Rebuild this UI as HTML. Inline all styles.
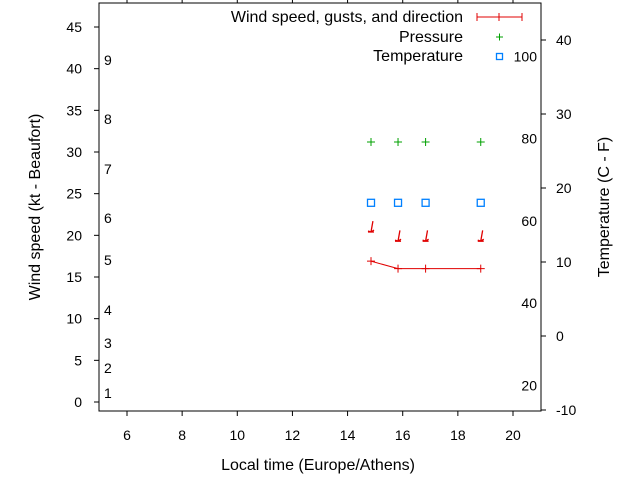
<!DOCTYPE html>
<html><head><meta charset="utf-8"><style>
body{margin:0;background:#fff;}
svg text{font-family:"Liberation Sans",sans-serif;font-size:14px;fill:#000;}
svg text.big{font-size:16px;}
</style></head><body>
<svg width="640" height="480" xmlns="http://www.w3.org/2000/svg">
<g id="root"></g>
</svg>
<script>
const times=[14.85,15.83,16.83,18.83];
const windSpeed=[16.9,16,16,16];
const arrowLevel=[20.4,19.3,19.3,19.3];
const windDir=[10,10,10,10];
const pressure=[31.2,31.2,31.2,31.2];
const temperature=[18,18,18,18];
const xTicks=[6,8,10,12,14,16,18,20];
const yTicks=[0,5,10,15,20,25,30,35,40,45];
const y2Ticks=[-10,0,10,20,30,40];
const fLabels=[20,40,60,80,100];
const bft=[1,2,3,4,5,6,7,8,9];
const bftY=[393,368,343,310,260,218,169,119,60];

const L=99,R=541,T=3,B=411;
const xs=t=>127+(t-6)*(513-127)/14;
const ys=v=>402-v*(402-27)/45;
const y2s=c=>410-(c+10)*(410-40)/50;
const NS="http://www.w3.org/2000/svg";
const root=document.getElementById('root');
function el(tag,attrs,text){const e=document.createElementNS(NS,tag);for(const k in attrs)e.setAttribute(k,attrs[k]);if(text!==undefined)e.textContent=text;root.appendChild(e);return e;}

let e=el('rect',{x:L,y:T,width:R-L,height:B-T,fill:'none',stroke:'#000','stroke-width':1});


xTicks.forEach(t=>{
  const x=xs(t);
  el('line',{x1:x,y1:B,x2:x,y2:B+5,stroke:'#000'});
  el('line',{x1:x,y1:T,x2:x,y2:T-5,stroke:'#000'});
  e=el('text',{x:x,y:B+29,'text-anchor':'middle'},t);
  
  
});
yTicks.forEach(v=>{
  const y=ys(v);
  el('line',{x1:L-5,y1:y,x2:L,y2:y,stroke:'#000'});
  e=el('text',{x:82,y:y+5,'text-anchor':'end'},v);
  
  
});
y2Ticks.forEach(c=>{
  const y=y2s(c);
  el('line',{x1:R,y1:y,x2:R+5,y2:y,stroke:'#000'});
  e=el('text',{x:556,y:y+5},c);
  
  
});
fLabels.forEach(f=>{
  const c=(f-32)*5/9;
  e=el('text',{x:537,y:y2s(c)+5,'text-anchor':'end'},f);
  
  
});
bft.forEach((b,i)=>{
  e=el('text',{x:104,y:bftY[i]+5},b);
  
  
});
e=el('text',{x:318,y:470,'text-anchor':'middle','class':'big'},'Local time (Europe/Athens)');


e=el('text',{x:40,y:207,'text-anchor':'middle','class':'big',transform:'rotate(-90 40 207)'},'Wind speed (kt - Beaufort)');


e=el('text',{x:609,y:207,'text-anchor':'middle','class':'big',transform:'rotate(-90 609 207)'},'Temperature (C - F)');



e=el('polyline',{points:times.map((t,i)=>xs(t)+','+ys(windSpeed[i])).join(' '),fill:'none',stroke:'#e00000'});


times.forEach((t,i)=>{
  const x=xs(t),y=ys(windSpeed[i]);
  e=el('path',{d:`M${x-4},${y}H${x+4}M${x},${y-4}V${y+4}`,stroke:'#e00000'});
  
  
  const ay=ys(arrowLevel[i]),a=windDir[i]*Math.PI/180,len=11;
  const tx=x+len*Math.sin(a),ty=ay-len*Math.cos(a);
  e=el('path',{d:`M${tx},${ty}L${x},${ay}M${x-3},${ay-1}L${x},${ay}L${x+3},${ay-2}M${x-3},${ay}H${x+3}`,stroke:'#e00000','stroke-width':1.3,fill:'none'});
  
  
  const px=xs(t),py=ys(pressure[i]);
  e=el('path',{d:`M${px-4},${py}H${px+4}M${px},${py-4}V${py+4}`,stroke:'#00a000'});
  
  
  const qy=y2s(temperature[i]);
  e=el('rect',{x:px-3.5,y:qy-3.5,width:7,height:7,fill:'none',stroke:'#0080ff','stroke-width':1.3});
  
  
});
e=el('text',{x:463,y:22,'text-anchor':'end','class':'big'},'Wind speed, gusts, and direction');


el('path',{d:'M477,17H522M477,13V21M522,13V21M499,13V21',stroke:'#e00000'});
e=el('text',{x:463,y:42,'text-anchor':'end','class':'big'},'Pressure');


el('path',{d:'M496,37H503M499.5,33.5V40.5',stroke:'#00a000'});
e=el('text',{x:463,y:61,'text-anchor':'end','class':'big'},'Temperature');


el('rect',{x:496.5,y:53.5,width:6,height:6,fill:'none',stroke:'#0080ff','stroke-width':1.3});
</script>
</body></html>
